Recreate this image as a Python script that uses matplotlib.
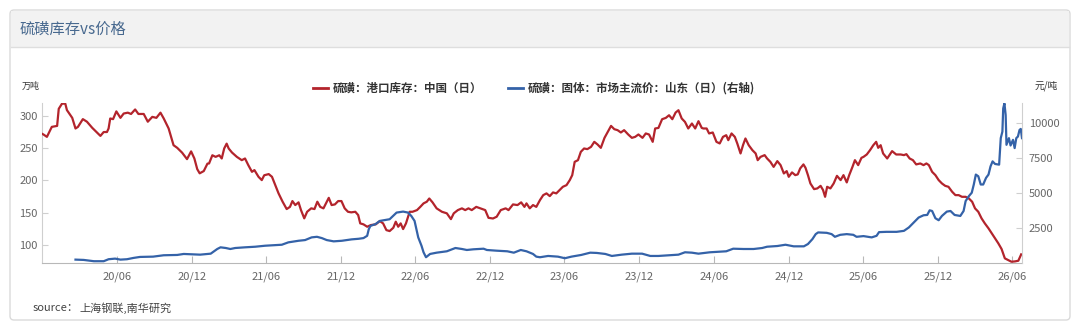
import matplotlib.pyplot as plt
import matplotlib.dates as mdates
from matplotlib.patches import FancyBboxPatch, Rectangle
from matplotlib.lines import Line2D
from matplotlib.transforms import IdentityTransform
import pandas as pd

plt.rcParams['font.family'] = ['Noto Sans CJK SC', 'DejaVu Sans']

# 硫磺：港口库存：中国（日），万吨
stock_dates = [
    '2019-12-01', '2019-12-04', '2019-12-12', '2019-12-24', '2020-01-06', '2020-01-10', '2020-01-18',
    '2020-01-26', '2020-01-30', '2020-02-12', '2020-02-20', '2020-02-26', '2020-03-09', '2020-03-19',
    '2020-04-01', '2020-04-13', '2020-04-21', '2020-04-29', '2020-05-07', '2020-05-11', '2020-05-15',
    '2020-05-22', '2020-05-30', '2020-06-09', '2020-06-17', '2020-06-27', '2020-07-05', '2020-07-15',
    '2020-07-23', '2020-08-05', '2020-08-15', '2020-08-26', '2020-09-05', '2020-09-15', '2020-09-23',
    '2020-10-05', '2020-10-17', '2020-10-26', '2020-11-07', '2020-11-19', '2020-11-29', '2020-12-07',
    '2020-12-14', '2020-12-20', '2020-12-30', '2021-01-08', '2021-01-12', '2021-01-20', '2021-01-28',
    '2021-02-06', '2021-02-12', '2021-02-18', '2021-02-24', '2021-03-01', '2021-03-09', '2021-03-21',
    '2021-04-02', '2021-04-10', '2021-04-18', '2021-04-27', '2021-05-03', '2021-05-13', '2021-05-21',
    '2021-05-27', '2021-06-07', '2021-06-15', '2021-06-23', '2021-07-01', '2021-07-11', '2021-07-21',
    '2021-07-29', '2021-08-04', '2021-08-11', '2021-08-19', '2021-08-25', '2021-09-02', '2021-09-09',
    '2021-09-19', '2021-09-27', '2021-10-04', '2021-10-11', '2021-10-19', '2021-10-25', '2021-11-01',
    '2021-11-08', '2021-11-16', '2021-11-24', '2021-12-02', '2021-12-10', '2021-12-18', '2021-12-26',
    '2022-01-05', '2022-01-12', '2022-01-17', '2022-01-25', '2022-02-03', '2022-02-12', '2022-02-24',
    '2022-03-06', '2022-03-14', '2022-03-22', '2022-03-30', '2022-04-08', '2022-04-14', '2022-04-20',
    '2022-04-26', '2022-05-02', '2022-05-09', '2022-05-14', '2022-05-18', '2022-05-25', '2022-06-05',
    '2022-06-13', '2022-06-21', '2022-06-29', '2022-07-05', '2022-07-13', '2022-07-23', '2022-08-05',
    '2022-08-17', '2022-08-27', '2022-09-03', '2022-09-13', '2022-09-23', '2022-10-01', '2022-10-09',
    '2022-10-17', '2022-10-28', '2022-11-07', '2022-11-19', '2022-11-27', '2022-12-08', '2022-12-17',
    '2022-12-27', '2023-01-08', '2023-01-15', '2023-01-26', '2023-02-06', '2023-02-15', '2023-02-23',
    '2023-02-28', '2023-03-08', '2023-03-16', '2023-03-24', '2023-04-02', '2023-04-10', '2023-04-18',
    '2023-04-26', '2023-05-04', '2023-05-12', '2023-05-20', '2023-05-28', '2023-06-06', '2023-06-14',
    '2023-06-20', '2023-06-26', '2023-07-04', '2023-07-11', '2023-07-19', '2023-07-27', '2023-08-05',
    '2023-08-13', '2023-08-21', '2023-08-29', '2023-09-07', '2023-09-15', '2023-09-23', '2023-10-01',
    '2023-10-09', '2023-10-17', '2023-10-25', '2023-11-04', '2023-11-13', '2023-11-21', '2023-11-29',
    '2023-12-09', '2023-12-17', '2023-12-25', '2024-01-03', '2024-01-09', '2024-01-17', '2024-01-26',
    '2024-02-04', '2024-02-12', '2024-02-20', '2024-02-28', '2024-03-06', '2024-03-14', '2024-03-22',
    '2024-03-30', '2024-04-08', '2024-04-16', '2024-04-24', '2024-05-02', '2024-05-06', '2024-05-14',
    '2024-05-20', '2024-05-29', '2024-06-07', '2024-06-15', '2024-06-23', '2024-07-01', '2024-07-06',
    '2024-07-14', '2024-07-22', '2024-07-28', '2024-08-05', '2024-08-11', '2024-08-17', '2024-08-25',
    '2024-09-03', '2024-09-11', '2024-09-16', '2024-09-23', '2024-10-03', '2024-10-09', '2024-10-17',
    '2024-10-25', '2024-11-03', '2024-11-11', '2024-11-19', '2024-11-26', '2024-12-01', '2024-12-09',
    '2024-12-17', '2024-12-23', '2024-12-29', '2025-01-06', '2025-01-11', '2025-01-17', '2025-01-23',
    '2025-02-01', '2025-02-09', '2025-02-17', '2025-02-23', '2025-02-28', '2025-03-05', '2025-03-13',
    '2025-03-21', '2025-03-29', '2025-04-07', '2025-04-14', '2025-04-22', '2025-04-28', '2025-05-06',
    '2025-05-12', '2025-05-20', '2025-05-28', '2025-06-02', '2025-06-10', '2025-06-18', '2025-06-26',
    '2025-07-03', '2025-07-08', '2025-07-14', '2025-07-20', '2025-07-30', '2025-08-11', '2025-08-21',
    '2025-09-01', '2025-09-09', '2025-09-15', '2025-09-23', '2025-10-01', '2025-10-09', '2025-10-19',
    '2025-10-27', '2025-11-03', '2025-11-09', '2025-11-17', '2025-11-25', '2025-12-03', '2025-12-11',
    '2025-12-19', '2025-12-27', '2026-01-05', '2026-01-13', '2026-01-21', '2026-01-29', '2026-02-07',
    '2026-02-15', '2026-02-23', '2026-03-02', '2026-03-10', '2026-03-18', '2026-03-26', '2026-04-04',
    '2026-04-12', '2026-04-20', '2026-04-28', '2026-05-06', '2026-05-14', '2026-05-22', '2026-05-30',
    '2026-06-08', '2026-06-16', '2026-06-23',
]
stock_vals = [
    272, 271, 267.5, 283, 284.5, 311, 319,
    319, 309, 297, 280.5, 283, 295, 291,
    281.5, 274, 269, 275, 275, 280.5, 296,
    295, 307, 297, 303.7, 305, 303, 310,
    303, 303, 291, 298.5, 297, 305, 296,
    280.5, 254.6, 250.5, 243, 233, 245, 234,
    217.5, 211, 214.5, 226, 226.3, 239, 236.5,
    239, 234, 249.5, 257, 249.5, 243.3, 236.5,
    231.4, 234, 223.7, 213.3, 216, 205.6, 200.5,
    208, 209.8, 205.6, 192.7, 180, 167, 155.6,
    159, 168, 161.8, 166, 154, 141.2, 151.4,
    156.7, 155.6, 167, 159, 156.7, 164.4, 173,
    161.8, 162.8, 168, 168, 156.7, 151.4, 150.5,
    151.4, 146.3, 133.4, 131.9, 128.2, 130.8, 131.9,
    137, 133.4, 123, 121.5, 126.6, 136, 128.2,
    133.4, 124.6, 133.4, 143.7, 151.4, 151.4, 154,
    159, 164.4, 167, 172, 166, 156.7, 151.4,
    149, 140, 149, 154, 156.7, 154, 156.7,
    154, 159, 156.7, 154, 142, 141, 143.7,
    154, 156.7, 154, 162.8, 161.8, 166, 159,
    164.4, 156.7, 161.8, 159, 169.5, 177.2, 179.9,
    175.7, 181.4, 179.9, 185, 190.1, 192.7, 200.5,
    208.2, 228.8, 231.4, 244.3, 249.5, 248.5, 252,
    259.8, 255.7, 250.5, 266, 275.2, 284.5, 279.4,
    277.9, 274.3, 277.9, 271.2, 266, 267.5, 271.2,
    266, 272.8, 271.2, 259.8, 280.5, 281.4, 294.9,
    296.9, 301, 294.9, 305.2, 308.8, 296, 290.7,
    280.5, 288.2, 280.5, 291.8, 281.4, 280.5, 280.5,
    272.8, 274.3, 259.8, 257.3, 267.5, 270.1, 262.4,
    272.8, 267.5, 257.3, 241.8, 254.6, 265, 254.6,
    246.9, 241.8, 231.4, 236.5, 239.2, 234, 228.8,
    221, 229.9, 223.7, 210.8, 214.4, 205.6, 212.4,
    208.2, 209.3, 218.6, 224.8, 219.6, 208.2, 195.3,
    186.5, 187.6, 191.6, 185, 174.6, 190.1, 187.6,
    195.3, 207.1, 200.5, 208.2, 196.9, 208.2, 221,
    231.4, 223.7, 235, 236.5, 240.2, 246.9, 254.6,
    259.8, 250.5, 254.6, 241.8, 234, 245.4, 240.2,
    240.2, 239.2, 240.7, 234, 231.4, 224.8, 226.3,
    223.7, 226.3, 223.7, 213.3, 208.2, 200.5, 195.3,
    191.6, 190.1, 182.4, 177.2, 177.2, 174.6, 174.6,
    172, 166.9, 156.7, 151.4, 141.2, 133.4, 125.7,
    117.9, 110.2, 102.5, 93.7, 79.2, 76.6, 74,
    74.5, 75.5, 85.4,
]

# 硫磺：固体：市场主流价：山东（日），元/吨
price_dates = [
    '2020-02-20', '2020-03-11', '2020-04-05', '2020-04-29', '2020-05-11', '2020-05-27', '2020-06-09',
    '2020-06-25', '2020-07-11', '2020-07-27', '2020-08-28', '2020-09-23', '2020-10-26', '2020-11-11',
    '2020-11-28', '2020-12-21', '2021-01-16', '2021-02-01', '2021-02-09', '2021-02-22', '2021-03-05',
    '2021-03-17', '2021-04-10', '2021-05-05', '2021-05-29', '2021-07-09', '2021-07-25', '2021-08-19',
    '2021-09-04', '2021-09-20', '2021-10-03', '2021-10-15', '2021-10-27', '2021-11-13', '2021-12-03',
    '2021-12-27', '2022-01-13', '2022-01-25', '2022-02-03', '2022-02-07', '2022-02-11', '2022-02-23',
    '2022-03-06', '2022-03-30', '2022-04-16', '2022-05-02', '2022-05-14', '2022-05-22', '2022-05-30',
    '2022-06-08', '2022-06-16', '2022-06-21', '2022-06-27', '2022-07-07', '2022-07-23', '2022-08-17',
    '2022-09-07', '2022-09-23', '2022-10-05', '2022-10-21', '2022-11-15', '2022-11-23', '2022-12-17',
    '2023-01-12', '2023-01-28', '2023-02-14', '2023-02-28', '2023-03-16', '2023-03-24', '2023-04-02',
    '2023-04-22', '2023-05-16', '2023-06-02', '2023-06-18', '2023-07-12', '2023-08-03', '2023-08-19',
    '2023-09-09', '2023-09-25', '2023-10-19', '2023-11-13', '2023-12-08', '2023-12-28', '2024-01-17',
    '2024-02-12', '2024-03-06', '2024-03-22', '2024-04-08', '2024-04-24', '2024-05-22', '2024-06-16',
    '2024-07-01', '2024-07-18', '2024-08-12', '2024-09-06', '2024-09-27', '2024-10-09', '2024-11-03',
    '2024-11-23', '2024-12-13', '2025-01-07', '2025-01-17', '2025-01-28', '2025-02-05', '2025-02-11',
    '2025-03-04', '2025-03-16', '2025-03-24', '2025-04-06', '2025-04-22', '2025-05-08', '2025-05-16',
    '2025-06-02', '2025-06-22', '2025-07-04', '2025-07-10', '2025-07-28', '2025-08-22', '2025-09-09',
    '2025-09-21', '2025-10-03', '2025-10-15', '2025-10-27', '2025-11-05', '2025-11-11', '2025-11-17',
    '2025-11-25', '2025-12-03', '2025-12-11', '2025-12-23', '2026-01-01', '2026-01-11', '2026-01-25',
    '2026-02-02', '2026-02-07', '2026-02-15', '2026-02-22', '2026-02-27', '2026-03-04', '2026-03-10',
    '2026-03-16', '2026-03-22', '2026-03-29', '2026-04-04', '2026-04-09', '2026-04-14', '2026-04-20',
    '2026-04-30', '2026-05-04', '2026-05-08', '2026-05-10', '2026-05-13', '2026-05-16', '2026-05-18',
    '2026-05-24', '2026-05-28', '2026-06-03', '2026-06-07', '2026-06-11', '2026-06-15', '2026-06-19',
    '2026-06-22', '2026-06-25',
]
price_vals = [
    242, 220, 128, 128, 270, 313, 242,
    270, 363, 434, 455, 554, 576, 647,
    625, 597, 668, 1002, 1122, 1073, 1002,
    1073, 1122, 1165, 1236, 1307, 1477, 1591,
    1641, 1833, 1875, 1783, 1641, 1549, 1591,
    1691, 1733, 1783, 1946, 2422, 2656, 2777,
    3012, 3132, 3608, 3679, 3608, 3367, 3012,
    1833, 1236, 767, 412, 647, 739, 838,
    1073, 1002, 931, 980, 1023, 931, 881,
    838, 739, 931, 838, 647, 455, 412,
    504, 455, 341, 455, 576, 739, 720,
    647, 504, 597, 668, 668, 504, 504,
    554, 597, 767, 739, 668, 767, 810,
    838, 1023, 1002, 1002, 1073, 1165, 1215,
    1307, 1193, 1193, 1357, 1712, 2067, 2188,
    2159, 2067, 1875, 2017, 2067, 2017, 1875,
    1925, 1833, 1946, 2209, 2230, 2230, 2301,
    2543, 2898, 3253, 3416, 3440, 3771, 3722,
    3203, 3061, 3367, 3679, 3722, 3438, 3367,
    3722, 4432, 4787, 5029, 5618, 6328, 6207,
    5618, 5618, 6094, 6328, 6918, 7273, 7088,
    7038, 8935, 9403, 11065, 11420, 10590, 8459,
    8935, 8409, 8814, 8224, 8935, 9049, 9524,
    9595, 8935,
]

x_ticks = pd.date_range('2020-06-01', '2026-06-01', freq='6MS')
left_ticks = [100, 150, 200, 250, 300]
right_ticks = [2500, 5000, 7500, 10000]

stock_name = '硫磺：港口库存：中国（日）'
price_name = '硫磺：固体：市场主流价：山东（日）(右轴)'

red = '#b3242c'
blue = '#3462a8'
W, H = 1080, 330

fig = plt.figure(figsize=(W / 100, H / 100), dpi=100)
fig.patch.set_facecolor('white')

# card with grey header, kept behind the axes
card = FancyBboxPatch((10, 10), 1060, 310, boxstyle='round,pad=0,rounding_size=4',
                      transform=IdentityTransform(), facecolor='white', edgecolor='#dadada',
                      lw=1, zorder=-3)
fig.add_artist(card)
head = Rectangle((11, H - 47), 1058, 36, transform=IdentityTransform(),
                 facecolor='#f2f2f2', edgecolor='none', zorder=-2)
fig.add_artist(head)
fig.add_artist(Line2D([11, 1069], [H - 47, H - 47], transform=IdentityTransform(),
                      color='#dedede', lw=1, zorder=-1))
fig.text(20 / W, 1 - 29 / H, '硫磺库存vs价格', color='#48698f', fontsize=11, va='center')

ax = fig.add_axes([42 / W, 1 - 263 / H, 980 / W, 160 / H])
ax.set_facecolor('none')
ax2 = ax.twinx()
ax2.set_facecolor('none')

ax.plot(pd.to_datetime(stock_dates), stock_vals, color=red, lw=1.6, zorder=3)
ax2.plot(pd.to_datetime(price_dates), price_vals, color=blue, lw=1.6)

ax.set_xlim(pd.Timestamp('2019-11-30'), pd.Timestamp('2026-06-25'))
ax.set_ylim(72, 320)
ax2.set_ylim(0, 11450)

ax.set_xticks(x_ticks)
ax.xaxis.set_major_formatter(mdates.DateFormatter('%y/%m'))
ax.set_yticks(left_ticks)
ax2.set_yticks(right_ticks)

for s in ['top', 'right']:
    ax.spines[s].set_visible(False)
for s in ['top', 'left', 'bottom']:
    ax2.spines[s].set_visible(False)
ax.spines['left'].set_color('#cfcfcf')
ax.spines['bottom'].set_color('#b8b8b8')
ax2.spines['right'].set_color('#cfcfcf')

ax.tick_params(axis='x', direction='in', length=5, color='#b8b8b8', labelcolor='#666666',
               labelsize=8, pad=6)
ax.tick_params(axis='y', direction='in', length=4, color='#cfcfcf', labelcolor='#666666',
               labelsize=8, pad=3)
ax2.tick_params(axis='y', direction='in', length=4, color='#cfcfcf', labelcolor='#666666',
                labelsize=8, pad=5)

fig.text(22 / W, 1 - 86 / H, '万吨', fontsize=6.5, color='#333333', va='center')
fig.text(1035 / W, 1 - 86 / H, '元/吨', fontsize=7, color='#333333', va='center')

# legend
ly = 1 - 88 / H
fig.add_artist(Line2D([313 / W, 328 / W], [ly, ly], color=red, lw=2))
fig.text(333 / W, ly, stock_name, fontsize=8.3, fontweight='bold', color='#333333', va='center')
fig.add_artist(Line2D([508 / W, 523 / W], [ly, ly], color=blue, lw=2))
fig.text(528 / W, ly, price_name, fontsize=8.3, fontweight='bold', color='#333333', va='center')

fig.text(33 / W, 1 - 308 / H, 'source：', fontsize=8, color='#444444', va='center')
fig.text(79 / W, 1 - 308 / H, '上海钢联,南华研究', fontsize=8, color='#444444', va='center',
         style='italic')

fig.savefig('out.png', dpi=100)
